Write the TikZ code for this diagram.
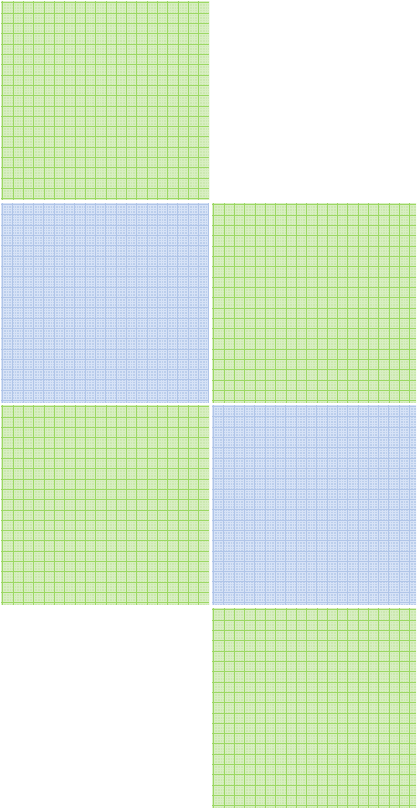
\documentclass[tikz,border=0pt]{standalone}
\definecolor{gfill}{RGB}{204,232,176}
\definecolor{gmajor}{RGB}{156,216,100}
\definecolor{gminor}{RGB}{216,238,194}
\definecolor{bfill}{RGB}{188,207,236}
\definecolor{bminor}{RGB}{214,226,246}
\definecolor{bmajor}{RGB}{176,197,232}
\newcommand\gridlines[5]{% w h step offset style
  \foreach \i in {0,...,84} {
    \draw[#5] (#4+\i*#3,0) -- (#4+\i*#3,#2);
    \draw[#5] (0,#4+\i*#3) -- (#1,#4+\i*#3);
  }}
\newcommand\greencell[4]{%
  \begin{scope}
    \clip (#1,#2) rectangle ++(#3,#4);
    \fill[gfill] (#1,#2) rectangle ++(#3,#4);
    \begin{scope}[shift={(#1,#2)}]
      \gridlines{#3}{#4}{2.58}{0}{gminor,line width=0.4pt}
      \gridlines{#3}{#4}{10.32}{1.7}{gmajor,line width=0.8pt}
    \end{scope}
  \end{scope}}
\newcommand\bluecell[4]{%
  \begin{scope}
    \clip (#1,#2) rectangle ++(#3,#4);
    \fill[bfill] (#1,#2) rectangle ++(#3,#4);
    \begin{scope}[shift={(#1,#2)}]
      \gridlines{#3}{#4}{2.58}{0}{bminor,line width=0.5pt}
      \gridlines{#3}{#4}{10.32}{1.3}{bmajor,line width=0.5pt}
    \end{scope}
  \end{scope}}
\begin{document}
\begin{tikzpicture}[x=1pt,y=-1pt]
  \useasboundingbox[fill=white] (0,0) rectangle (416,808);
  \greencell{1}{1}{208}{199}
  \bluecell{1}{203}{208}{200}
  \greencell{212}{203}{204}{200}
  \greencell{1}{405}{208}{200}
  \bluecell{212}{405}{204}{200}
  \greencell{212}{608}{204}{200}
\end{tikzpicture}
\end{document}
